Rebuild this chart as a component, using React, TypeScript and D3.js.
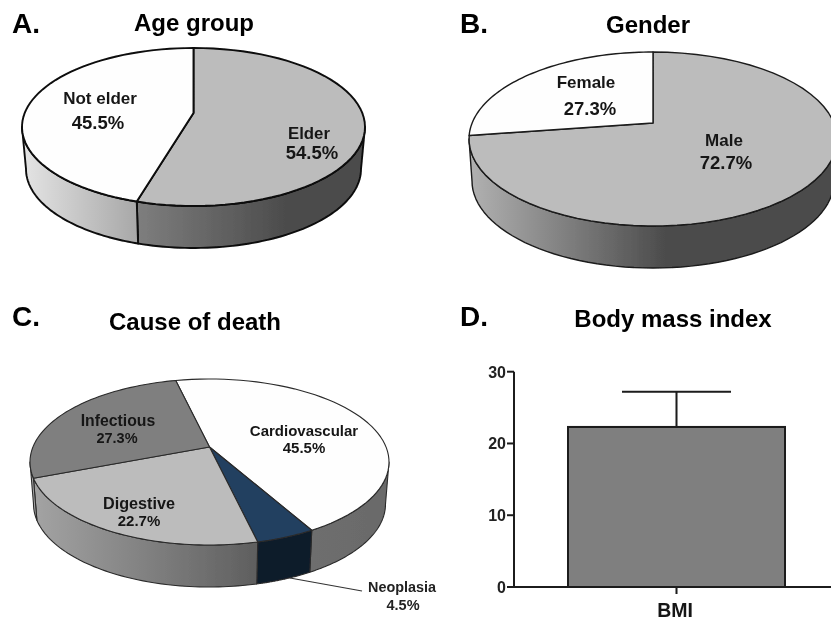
import React from "react";
import * as d3 from "d3";

const FONT = "'Liberation Sans', Arial, sans-serif";

const ageLabels = ["Elder", "Not elder"];
const ageValues = [54.5, 45.5];
const genderLabels = ["Male", "Female"];
const genderValues = [72.7, 27.3];
const causeLabels = ["Cardiovascular", "Neoplasia", "Digestive", "Infectious"];
const causeValues = [45.5, 4.5, 22.7, 27.3];
const bmiTicks = [0, 10, 20, 30];
const bmiMean = 22.3;
const bmiUpper = 27.2;

type Slice = { fill: string; wall: [string, string]; span: [number, number] };
type PieCfg = {
  id: string; values: number[]; slices: Slice[]; start: number;
  cx: number; cy: number; rx: number; ry: number; rxb: number; depth: number; apexY: number;
  stroke: string; sw: number;
};

const pies: PieCfg[] = [
  {
    id: "a", values: ageValues, start: 0, cx: 193.5, cy: 127, rx: 171.5, ry: 79, rxb: 167.5, depth: 42, apexY: 113,
    stroke: "#0a0a0a", sw: 1.9,
    slices: [
      { fill: "#bcbcbc", wall: ["#7e7e7e", "#4c4c4c"], span: [137, 285] },
      { fill: "#fefefe", wall: ["#e2e2e2", "#a8a8a8"], span: [27, 137] },
    ],
  },
  {
    id: "b", values: genderValues, start: 0, cx: 653, cy: 139, rx: 184, ry: 87, rxb: 181, depth: 42, apexY: 123,
    stroke: "#1a1a1a", sw: 1.4,
    slices: [
      { fill: "#bcbcbc", wall: ["#b0b0b0", "#4c4c4c"], span: [472, 665] },
      { fill: "#fefefe", wall: ["#dddddd", "#dddddd"], span: [469, 480] },
    ],
  },
  {
    id: "c", values: causeValues, start: -13, cx: 209.5, cy: 462, rx: 179.5, ry: 83, rxb: 176, depth: 42, apexY: 447,
    stroke: "#2a2a2a", sw: 1.1,
    slices: [
      { fill: "#fefefe", wall: ["#6e6e6e", "#6a6a6a"], span: [313, 385] },
      { fill: "#243f60", wall: ["#101c2b", "#101c2b"], span: [259, 313] },
      { fill: "#bcbcbc", wall: ["#a2a2a2", "#5e5e5e"], span: [38, 259] },
      { fill: "#7f7f7f", wall: ["#a8a8a8", "#a8a8a8"], span: [30, 40] },
    ],
  },
];

// Perspective of a tilted disc: maps a true pie angle to a parametric angle on the ellipse
function warp(theta: number, e: number) {
  const x = Math.sin(theta);
  const y = -Math.cos(theta);
  const k = 1 + e * y;
  return Math.atan2((x * Math.sqrt(1 - e * e)) / k, -(y + e) / k);
}

function Pie3D({ cfg }: { cfg: PieCfg }) {
  const { cx, cy, rx, ry, rxb, depth, apexY } = cfg;
  const e = (apexY - cy) / ry;
  const rad = Math.PI / 180;
  const arcs = d3
    .pie<number>()
    .sort(null)
    .startAngle(cfg.start * rad)
    .endAngle((cfg.start + 360) * rad)(cfg.values);

  const top = (p: number): [number, number] => [cx + rx * Math.sin(p), cy - ry * Math.cos(p)];
  const bot = (p: number): [number, number] => [cx + rxb * Math.sin(p), cy + depth - ry * Math.cos(p)];
  const line = d3.line<[number, number]>();
  const samples = (a: number, b: number) => d3.range(0, 61).map((i) => a + ((b - a) * i) / 60);

  const parts = arcs.map((arc) => {
    let a = warp(arc.startAngle, e);
    let b = warp(arc.endAngle, e);
    while (a > arc.startAngle + Math.PI) a -= 2 * Math.PI;
    while (a < arc.startAngle - Math.PI) a += 2 * Math.PI;
    while (b <= a) b += 2 * Math.PI;
    while (b > a + 2 * Math.PI) b -= 2 * Math.PI;
    return { a, b };
  });

  return (
    <g>
      <defs>
        {cfg.slices.map((s, i) => (
          <linearGradient key={i} id={`${cfg.id}w${i}`} gradientUnits="userSpaceOnUse" x1={s.span[0]} x2={s.span[1]} y1={0} y2={0}>
            <stop offset="0" stopColor={s.wall[0]} />
            <stop offset="1" stopColor={s.wall[1]} />
          </linearGradient>
        ))}
      </defs>
      {parts.map(({ a, b }, i) => {
        const lo = Math.max(a, Math.PI / 2);
        const hi = Math.min(b, 1.5 * Math.PI);
        if (hi <= lo) return null;
        const pts = [...samples(lo, hi).map(top), ...samples(hi, lo).map(bot)];
        return <path key={i} d={line(pts) + "Z"} fill={`url(#${cfg.id}w${i})`} stroke={cfg.stroke} strokeWidth={cfg.sw} strokeLinejoin="round" />;
      })}
      {parts.map(({ a, b }, i) => {
        const pts: [number, number][] = [[cx, apexY], ...samples(a, b).map(top)];
        return <path key={i} d={line(pts) + "Z"} fill={cfg.slices[i].fill} stroke={cfg.stroke} strokeWidth={cfg.sw} strokeLinejoin="round" />;
      })}
    </g>
  );
}

function Label({ x, y, size, children, anchor = "middle", color = "#161616" }: any) {
  return (
    <text x={x} y={y} fontSize={size} fontWeight="bold" fontFamily={FONT} textAnchor={anchor} fill={color}>
      {children}
    </text>
  );
}

export default function App() {
  const y = d3.scaleLinear().domain([0, 30]).range([587, 371.7]);
  const x = d3.scaleBand().domain(["BMI"]).range([514, 839]).paddingInner(0).paddingOuter(0);
  const bx = (x("BMI") as number) + 54;
  const bw = x.bandwidth() - 108;
  const mid = bx + bw / 2;
  return (
    <svg width={831} height={621} viewBox="0 0 831 621" style={{ position: "absolute", left: 0, top: 0, display: "block", background: "#fff" }}>
      <defs>
        <filter id="soft" x="0" y="0" width="100%" height="100%">
          <feGaussianBlur stdDeviation="0.4" />
        </filter>
      </defs>
      <g filter="url(#soft)">
        <Label x={12} y={33} size={28} anchor="start" color="#000">A.</Label>
        <Label x={460} y={33} size={28} anchor="start" color="#000">B.</Label>
        <Label x={12} y={326} size={28} anchor="start" color="#000">C.</Label>
        <Label x={460} y={326} size={28} anchor="start" color="#000">D.</Label>
        <Label x={194} y={31} size={24} color="#000">Age group</Label>
        <Label x={648} y={33} size={24} color="#000">Gender</Label>
        <Label x={195} y={330} size={24} color="#000">Cause of death</Label>
        <Label x={673} y={327} size={24} color="#000">Body mass index</Label>

        <path d="M290,578L362,591" stroke="#333" strokeWidth={1.2} fill="none" />
        {pies.map((p) => <Pie3D key={p.id} cfg={p} />)}

        <Label x={100} y={104} size={17}>{ageLabels[1]}</Label>
        <Label x={98} y={129} size={18.5}>{ageValues[1].toFixed(1)}%</Label>
        <Label x={309} y={139} size={16.8}>{ageLabels[0]}</Label>
        <Label x={312} y={159} size={18.5}>{ageValues[0].toFixed(1)}%</Label>

        <Label x={586} y={88} size={17}>{genderLabels[1]}</Label>
        <Label x={590} y={115} size={18.5}>{genderValues[1].toFixed(1)}%</Label>
        <Label x={724} y={146} size={17}>{genderLabels[0]}</Label>
        <Label x={726} y={169} size={18.5}>{genderValues[0].toFixed(1)}%</Label>

        <Label x={304} y={436} size={15}>{causeLabels[0]}</Label>
        <Label x={304} y={453} size={15}>{causeValues[0].toFixed(1)}%</Label>
        <Label x={402} y={592} size={14.4} color="#222">{causeLabels[1]}</Label>
        <Label x={403} y={610} size={14.5} color="#222">{causeValues[1].toFixed(1)}%</Label>
        <Label x={139} y={509} size={16.2}>{causeLabels[2]}</Label>
        <Label x={139} y={526} size={15}>{causeValues[2].toFixed(1)}%</Label>
        <Label x={118} y={425.5} size={15.8}>{causeLabels[3]}</Label>
        <Label x={117} y={442.5} size={14.5}>{causeValues[3].toFixed(1)}%</Label>

        <rect x={bx} y={y(bmiMean)} width={bw} height={y(0) - y(bmiMean)} fill="#7f7f7f" stroke="#1a1a1a" strokeWidth={2} />
        <path d={`M${mid},${y(bmiMean)}V${y(bmiUpper)}M${mid - 54.5},${y(bmiUpper)}H${mid + 54.5}`} stroke="#1a1a1a" strokeWidth={2} fill="none" />
        <path d={`M514,${y(30)}V${y(0)}H831M${mid},${y(0)}V594`} stroke="#1a1a1a" strokeWidth={2} fill="none" />
        {bmiTicks.map((t) => (
          <g key={t}>
            <line x1={507} x2={514} y1={y(t)} y2={y(t)} stroke="#1a1a1a" strokeWidth={2} />
            <Label x={506} y={y(t) + 6} size={16} anchor="end" color="#222">{t}</Label>
          </g>
        ))}
        <Label x={675} y={617} size={19.5}>BMI</Label>
      </g>
    </svg>
  );
}
